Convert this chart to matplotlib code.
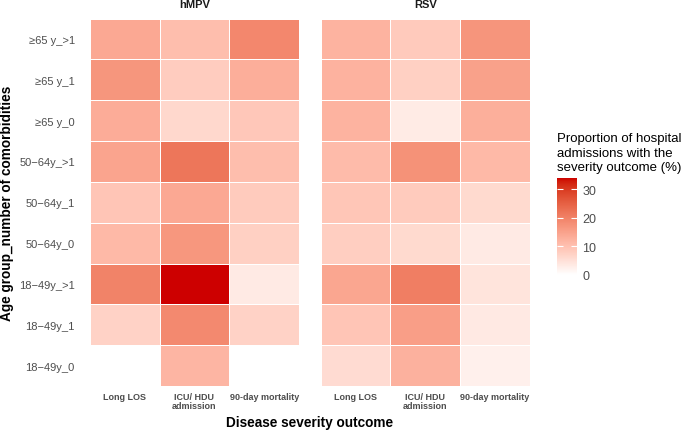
import numpy as np
import matplotlib
matplotlib.use("Agg")
import matplotlib.pyplot as plt
from matplotlib.colors import ListedColormap, Normalize
from matplotlib.cm import ScalarMappable

plt.rcParams['font.family'] = ['Liberation Sans', 'DejaVu Sans']

rows = ["≥65 y_>1", "≥65 y_1", "≥65 y_0",
        "50−64y_>1", "50−64y_1", "50−64y_0",
        "18−49y_>1", "18−49y_1", "18−49y_0"]
outcomes = ["Long LOS", "ICU/ HDU\nadmission", "90-day mortality"]
viruses = ["hMPV", "RSV"]

# % of admissions, rows top -> bottom
hmpv_los  = [14.0, 16.9, 13.4, 14.7, 9.4, 11.3, 19.8, 7.3, 0.0]
hmpv_icu  = [10.5, 8.2, 6.3, 21.9, 14.0, 16.8, 34.0, 18.9, 11.9]
hmpv_mort = [19.2, 13.1, 8.9, 10.5, 8.4, 7.7, 3.4, 7.3, 0.0]

rsv_los  = [12.3, 12.4, 12.3, 11.0, 9.2, 7.9, 14.4, 9.4, 5.8]
rsv_icu  = [8.5, 7.7, 3.2, 17.6, 8.4, 6.1, 20.6, 15.6, 12.6]
rsv_mort = [17.1, 15.2, 12.9, 11.3, 6.1, 3.4, 4.4, 3.5, 2.4]

vmin, vmax = 0, 34


def to_lab(rgb):
    rgb = np.asarray(rgb, float)
    lin = np.where(rgb <= 0.04045, rgb / 12.92, ((rgb + 0.055) / 1.055) ** 2.4)
    m = np.array([[0.4124, 0.3576, 0.1805],
                  [0.2126, 0.7152, 0.0722],
                  [0.0193, 0.1192, 0.9505]])
    xyz = m @ lin / np.array([0.95047, 1.0, 1.08883])
    f = np.where(xyz > 0.008856, np.cbrt(xyz), 7.787 * xyz + 16 / 116)
    return np.array([116 * f[1] - 16, 500 * (f[0] - f[1]), 200 * (f[1] - f[2])])


def from_lab(lab):
    L, a, b = lab
    fy = (L + 16) / 116
    fx = fy + a / 500
    fz = fy - b / 200
    f = np.array([fx, fy, fz])
    xyz = np.where(f ** 3 > 0.008856, f ** 3, (f - 16 / 116) / 7.787)
    xyz = xyz * np.array([0.95047, 1.0, 1.08883])
    m = np.array([[3.2406, -1.5372, -0.4986],
                  [-0.9689, 1.8758, 0.0415],
                  [0.0557, -0.2040, 1.0570]])
    lin = m @ xyz
    rgb = np.where(lin <= 0.0031308, 12.92 * lin, 1.055 * np.clip(lin, 0, None) ** (1 / 2.4) - 0.055)
    return np.clip(rgb, 0, 1)


lo = to_lab([1, 1, 1])
hi = to_lab([0xCD / 255, 0, 0])
cmap = ListedColormap([from_lab(lo + t * (hi - lo)) for t in np.linspace(0, 1, 256)])
norm = Normalize(vmin, vmax)

fig = plt.figure(figsize=(6.85, 4.31), dpi=100)

panels = {
    "hMPV": np.array([hmpv_los, hmpv_icu, hmpv_mort]).T,
    "RSV": np.array([rsv_los, rsv_icu, rsv_mort]).T,
}
lefts = [90 / 685, 320.7 / 685]
for i, v in enumerate(viruses):
    ax = fig.add_axes([lefts[i], 1 - 387 / 431, 209 / 685, 367.5 / 431])
    z = panels[v]
    ax.pcolormesh(np.arange(4), np.arange(10), z, cmap=cmap, norm=norm,
                  edgecolors='white', linewidth=0.5)
    ax.set_xlim(0, 3)
    ax.set_ylim(9, 0)
    for s in ax.spines.values():
        s.set_visible(False)
    ax.tick_params(length=0)
    ax.set_xticks(np.arange(3) + 0.5)
    ax.set_xticklabels(outcomes, fontsize=6.5, fontweight='bold', color='#4D4D4D',
                       linespacing=1.1)
    ax.tick_params(axis='x', pad=4)
    ax.set_yticks(np.arange(9) + 0.5)
    if i == 0:
        ax.set_yticklabels(rows, fontsize=8, color='#4D4D4D')
        ax.tick_params(axis='y', pad=11)
    else:
        ax.set_yticklabels([])
    ax.set_title(v, fontsize=8, fontweight='bold', color='#1A1A1A', pad=8)

fig.text(310 / 685, 1 - 423 / 431, "Disease severity outcome", ha='center', va='center',
         fontsize=9.8, fontweight='bold')
fig.text(7 / 685, 1 - 203 / 431, "Age group_number of comorbidities", ha='center',
         va='center', rotation=90, fontsize=9.8, fontweight='bold')

fig.text(557 / 685, 1 - 133 / 431,
         "Proportion of hospital\nadmissions with the\nseverity outcome (%)",
         ha='left', va='top', fontsize=9.5, linespacing=1.3)

cax = fig.add_axes([557 / 685, 1 - 276 / 431, 20 / 685, 97 / 431])
cb = fig.colorbar(ScalarMappable(norm=norm, cmap=cmap), cax=cax, ticks=[0, 10, 20, 30])
cb.outline.set_visible(False)
cax.tick_params(axis='y', direction='in', color='white', length=4, width=0.8,
                left=True, right=True, labelsize=9, labelcolor='#4D4D4D', pad=4)

fig.savefig("out.png", dpi=100)
